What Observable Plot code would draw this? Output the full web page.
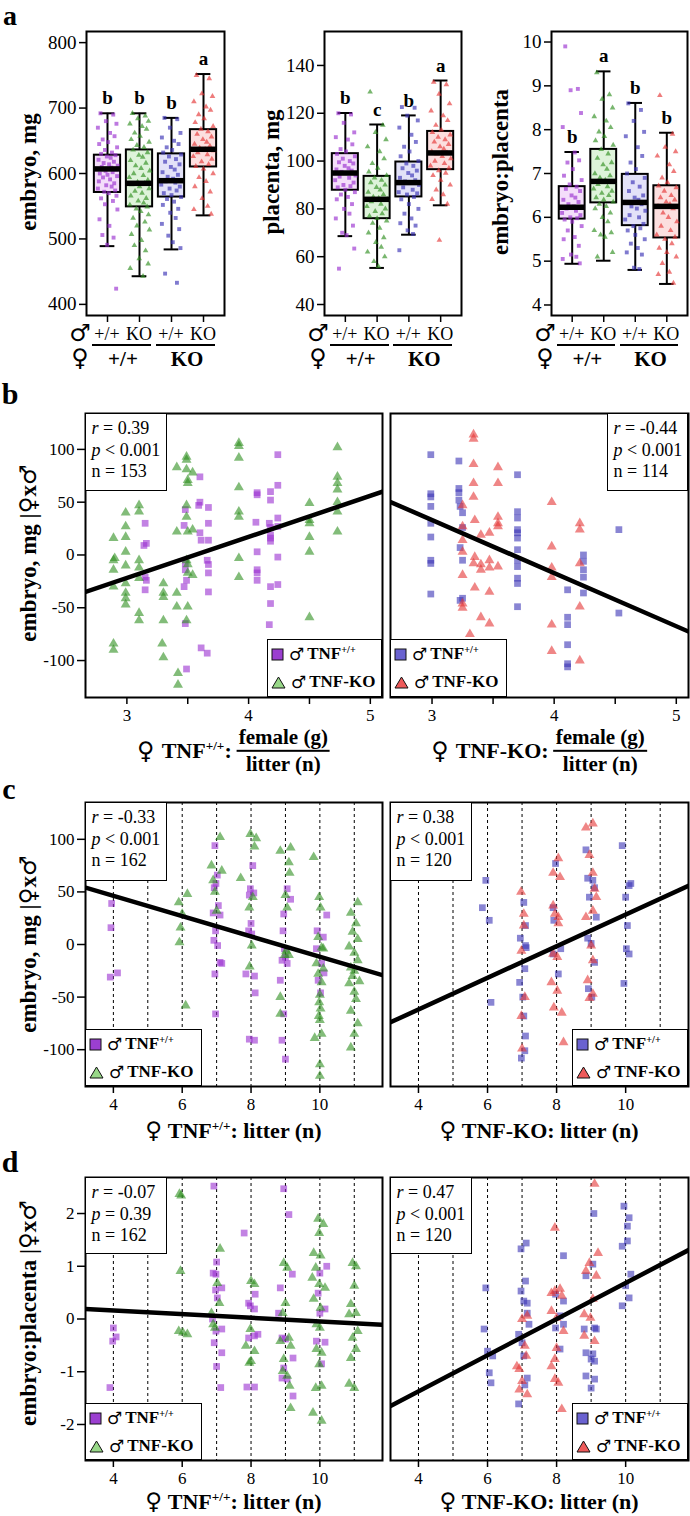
<!DOCTYPE html>
<html><head><meta charset="utf-8">
<script src="https://cdn.jsdelivr.net/npm/d3@7"></script>
<script src="https://cdn.jsdelivr.net/npm/@observablehq/plot@0.6"></script>
<style>
body{margin:0;background:#fff;}
#root{position:relative;width:690px;height:1516px;font-family:"Liberation Serif","Times New Roman",serif;color:#000;overflow:hidden;background:#fff;}
.abs{position:absolute;line-height:1;white-space:nowrap;}
.box{position:absolute;background:#fff;border:1.5px solid #000;box-sizing:border-box;white-space:nowrap;}
.stats{font-size:18px;line-height:21.7px;padding:4px 0 0 5.5px;}
.legend{padding:0 0 0 3px;}
.lrow{display:flex;align-items:center;height:28px;font-size:17px;}
.mars{font-family:"DejaVu Sans",sans-serif;font-weight:normal;font-size:17px;margin:0 3px 0 5px;}
sup{font-size:0.6em;vertical-align:0.6em;line-height:0;}
.sym{font-family:"DejaVu Sans",sans-serif;font-weight:normal;line-height:1;}
.frac{display:inline-flex;flex-direction:column;align-items:center;vertical-align:middle;font-weight:bold;font-size:21px;line-height:1.2;}
.frac span:first-child{border-bottom:2px solid #000;padding:0 2px;}
svg{overflow:visible;}
</style></head>
<body><div id="root"></div>
<script>
// ---------------- DATA ----------------
// panel a: sire genotype / dam genotype for the four groups
const sireLabels = ["+/+", "KO", "+/+", "KO"];
const damLabels = ["+/+", "KO"];

// box plot summaries (q1, median, q3, whisker low, whisker high) and letters
const embryoQ1 = [571, 549, 564, 610];
const embryoMed = [607, 585, 589, 637];
const embryoQ3 = [628, 636, 630, 667];
const embryoLo = [489, 443, 484, 536];
const embryoHi = [692, 692, 685, 752];
const embryoLetters = ["b", "b", "b", "a"];

const placentaQ1 = [87.8, 75.9, 85.0, 96.4];
const placentaMed = [95.0, 84.0, 91.0, 103.4];
const placentaQ3 = [103.1, 93.6, 99.6, 112.4];
const placentaLo = [68.6, 55.3, 69.2, 81.5];
const placentaHi = [120.1, 115.3, 119.1, 133.7];
const placentaLetters = ["b", "c", "b", "a"];

const ratioQ1 = [5.96, 6.33, 5.81, 5.53];
const ratioMed = [6.23, 6.82, 6.34, 6.25];
const ratioQ3 = [6.70, 7.55, 6.98, 6.72];
const ratioLo = [4.94, 5.01, 4.80, 4.48];
const ratioHi = [7.49, 9.33, 8.61, 7.93];
const ratioLetters = ["b", "a", "b", "b"];

// horizontal scatter offsets of the box-plot points (category units)
const jitterA = [-0.22, 0.18, -0.05, 0.28, -0.3, 0.08, 0.22, -0.15, 0.02, -0.26, 0.3, -0.08, 0.14, -0.2, 0.25, -0.02, 0.1, -0.28, 0.2, -0.12, 0.05, 0.32, -0.18, 0.12, -0.32, 0.26, -0.06, 0.16, -0.24, 0.0, 0.3, -0.14, 0.08, -0.27, 0.21, -0.04, 0.13, -0.3, 0.24, -0.1, 0.04, 0.28, -0.2, 0.17, -0.08, 0.31, -0.25, 0.06, -0.16, 0.19, -0.01, 0.27, -0.29, 0.11, -0.13, 0.23, -0.22, 0.09, -0.06, 0.15];

// individual points of the box plots, per group
const embryoG1 = [692, 690, 680, 676, 670, 662, 657, 652, 648, 645, 640, 636, 632, 630, 628, 626, 624, 621, 618, 616, 614, 612, 610, 609, 607, 606, 604, 602, 600, 598, 596, 594, 591, 588, 585, 582, 580, 577, 574, 572, 570, 566, 562, 558, 553, 545, 530, 520, 506, 502, 491, 424];
const embryoG2 = [692, 688, 684, 680, 676, 672, 668, 662, 657, 652, 648, 643, 640, 636, 632, 628, 625, 620, 616, 612, 608, 604, 600, 597, 594, 590, 587, 585, 583, 580, 577, 573, 570, 566, 562, 558, 555, 552, 549, 546, 542, 537, 532, 526, 520, 514, 507, 498, 490, 482, 470, 462, 455, 443];
const embryoG3 = [685, 683, 670, 662, 655, 650, 645, 640, 636, 632, 629, 626, 622, 618, 614, 610, 606, 602, 598, 595, 592, 590, 588, 586, 583, 580, 577, 574, 570, 567, 564, 561, 557, 552, 546, 540, 532, 523, 515, 505, 495, 486, 447, 433];
const embryoG4 = [750, 745, 722, 718, 710, 702, 697, 690, 684, 678, 672, 668, 664, 660, 656, 652, 648, 645, 642, 639, 637, 635, 632, 629, 626, 622, 618, 614, 611, 607, 600, 594, 588, 580, 572, 562, 550, 545, 538];

const placentaG1 = [120, 119.5, 116, 112, 110, 109, 107, 105, 104, 103, 102, 101, 100, 99.5, 99, 98, 97, 96.5, 96, 95.5, 95, 94, 93.5, 93, 92, 91, 90, 89.5, 89, 88, 87, 86, 85, 84, 82, 80, 78, 76, 73, 70, 69, 63.4, 55];
const placentaG2 = [128.9, 115, 112, 109, 106, 104, 101, 99, 97, 95.5, 94, 93, 92, 91, 90, 89, 88, 87, 86, 85, 84.5, 84, 83, 82, 81, 80, 79, 78, 77, 76, 75, 74, 72, 70, 68, 66, 64, 62, 60, 58, 56];
const placentaG3 = [122.6, 122.3, 119, 117, 114, 111, 108, 106, 104, 102, 100, 99, 98, 97, 96, 95, 94, 93, 92, 91.5, 91, 90, 89, 88, 87, 86.5, 86, 85, 84, 82, 80, 78, 76, 74, 73, 71, 69.5, 62.7];
const placentaG4 = [133, 132, 128, 124, 121, 119, 117, 115, 113, 112, 111, 110, 109, 108, 107, 106, 105, 104, 103.5, 103, 102, 101, 100, 99, 98, 97, 96, 95, 94, 92, 90, 88, 86, 84, 82, 66.9];

const ratioG1 = [9.9, 8.93, 8.9, 8.38, 8.06, 7.48, 7.3, 7.25, 7.1, 6.95, 6.85, 6.75, 6.7, 6.65, 6.6, 6.5, 6.45, 6.4, 6.35, 6.3, 6.25, 6.22, 6.2, 6.15, 6.1, 6.05, 6.0, 5.98, 5.95, 5.9, 5.8, 5.7, 5.55, 5.5, 5.35, 5.15, 5.1, 5.05, 4.95];
const ratioG2 = [9.3, 8.8, 8.7, 8.5, 8.3, 8.2, 8.05, 7.95, 7.85, 7.75, 7.65, 7.55, 7.45, 7.35, 7.25, 7.2, 7.1, 7.0, 6.95, 6.9, 6.85, 6.8, 6.75, 6.7, 6.65, 6.6, 6.55, 6.5, 6.45, 6.4, 6.35, 6.3, 6.25, 6.2, 6.1, 6.0, 5.9, 5.7, 5.65, 5.6, 5.55, 5.2, 5.1];
const ratioG3 = [8.6, 8.45, 8.2, 7.95, 7.85, 7.6, 7.4, 7.25, 7.1, 7.0, 6.9, 6.8, 6.7, 6.6, 6.5, 6.45, 6.4, 6.35, 6.3, 6.25, 6.2, 6.15, 6.05, 6.0, 5.95, 5.85, 5.8, 5.75, 5.7, 5.6, 5.5, 5.4, 5.3, 5.2, 5.15, 4.85, 4.82];
const ratioG4 = [8.78, 7.9, 7.6, 7.5, 7.4, 7.2, 7.05, 6.9, 6.8, 6.72, 6.68, 6.6, 6.5, 6.45, 6.4, 6.35, 6.3, 6.25, 6.2, 6.1, 6.0, 5.9, 5.8, 5.7, 5.6, 5.55, 5.5, 5.4, 5.3, 5.2, 5.1, 4.95, 4.75, 4.7, 4.5];

// panel b: female(g)/litter(n) vs embryo residual (mg); [x, y]
const bLeftWT = [[3.15,30],[3.16,11],[3.14,9],[3.15,-21],[3.16,-24],[3.15,-33],[3.48,43],[3.47,28],[3.48,-8],[3.48,-14],[3.49,-24],[3.47,-30],[3.48,-65],[3.49,-108],[3.60,74],[3.60,50],[3.59,47],[3.60,21],[3.61,14],[3.61,-88],[3.67,45],[3.67,30],[3.67,14],[3.66,-5],[3.67,-9],[3.67,-17],[3.67,-35],[3.66,-93],[4.07,59],[4.07,57],[4.06,31],[4.07,3],[4.07,-14],[4.07,-17],[4.07,-24],[4.18,60],[4.18,52],[4.17,30],[4.18,26],[4.18,19],[4.18,16],[4.18,13],[4.18,-30],[4.18,-46],[4.17,-66],[4.24,95],[4.24,66],[4.24,35],[4.24,27],[4.24,-2],[4.24,-28]];
const bLeftKO = [[2.89,16],[2.89,-5],[2.90,-3],[2.89,-14],[2.89,-30],[2.89,-84],[2.89,-90],[2.99,40],[2.99,27],[2.99,17],[2.99,3],[2.99,-10],[2.99,-27],[2.99,-36],[2.99,-41],[2.99,-47],[3.10,47],[3.10,41],[3.10,-5],[3.10,-12],[3.10,-22],[3.10,-55],[3.10,-62],[3.30,-27],[3.30,-36],[3.30,-40],[3.30,-62],[3.29,-84],[3.30,-97],[3.41,83],[3.41,22],[3.41,-36],[3.41,-49],[3.42,-112],[3.42,-123],[3.49,93],[3.49,90],[3.49,81],[3.50,71],[3.50,68],[3.49,47],[3.49,36],[3.50,22],[3.49,-5],[3.50,-9],[3.50,-17],[3.50,-49],[3.49,-62],[3.54,78],[3.54,24],[3.54,-19],[3.92,106],[3.92,103],[3.92,92],[3.92,64],[3.92,41],[3.92,36],[3.92,-3],[3.92,-21],[4.50,49],[4.50,33],[4.50,30],[4.50,17],[4.50,3],[4.50,-59],[4.73,102],[4.73,74],[4.73,68],[4.73,62],[4.73,50],[4.73,41],[4.73,22]];
const bRightWT = [[2.99,95],[2.99,58],[2.99,55],[2.99,46],[2.99,30],[2.99,17],[2.99,-5],[2.99,-8],[2.99,-37],[3.22,89],[3.22,63],[3.22,59],[3.22,52],[3.23,46],[3.23,7],[3.23,-43],[3.25,40],[3.25,26],[3.25,-5],[3.25,-41],[3.70,76],[3.70,41],[3.70,35],[3.70,24],[3.70,21],[3.70,16],[3.70,5],[3.70,-5],[3.70,-11],[3.70,-22],[3.70,-27],[3.70,-49],[4.11,-33],[4.11,-59],[4.11,-66],[4.11,-85],[4.11,-103],[4.11,-106],[4.24,0],[4.24,-6],[4.24,-14],[4.24,-21],[4.24,-36],[4.53,24],[4.53,-55]];
const bRightKO = [[3.34,114],[3.34,110],[3.34,86],[3.34,68],[3.34,55],[3.34,-8],[3.25,47],[3.25,27],[3.25,14],[3.25,3],[3.25,-19],[3.25,-46],[3.25,-50],[3.35,33],[3.35,-2],[3.35,-31],[3.40,19],[3.40,-9],[3.40,-14],[3.40,-59],[3.47,21],[3.47,-5],[3.47,-12],[3.47,-35],[3.47,-65],[3.54,83],[3.54,68],[3.54,36],[3.54,30],[3.54,27],[3.54,-11],[3.98,50],[3.98,8],[3.98,-12],[3.98,-21],[3.98,-66],[3.98,-91],[4.21,30],[4.21,24],[4.21,-8],[4.21,-49],[4.21,-100],[3.31,-75],[3.42,-88]];

// panel c: litter (n) vs embryo residual (mg)
const cLeftWT = [[3.95,39],[3.93,16],[3.91,-31],[4.12,-27],[6.95,94],[7.02,66],[6.98,58],[6.93,54],[7.05,37],[6.9,30],[7.1,28],[6.97,13],[6.92,4],[7.03,-1],[7.1,-17],[7.15,-18],[6.95,-28],[6.97,-66],[8.05,75],[7.98,53],[8.08,49],[7.95,47],[8.0,20],[7.93,13],[8.02,10],[7.85,-28],[8.1,-30],[8.12,-46],[7.95,-90],[8.1,-91],[9.05,53],[9.15,43],[8.95,29],[8.93,13],[8.97,-4],[9.0,-12],[8.9,-15],[9.05,-18],[8.85,-34],[8.95,-66],[8.9,-91],[9.0,-109],[10.2,28],[9.92,13],[10.1,7],[9.9,-4],[10.05,-18],[10.12,-27],[9.95,-34],[10.02,-46]];
const cLeftKO = [[5.9,40],[6.15,48],[6.0,29],[5.95,16],[5.92,2],[6.1,-58],[7.1,102],[6.85,75],[7.15,70],[7.7,63],[6.9,61],[6.95,50],[7.0,32],[7.98,105],[8.15,101],[8.1,93],[7.95,35],[8.05,45],[8.02,-1],[7.96,-21],[8.85,89],[9.15,92],[9.1,78],[9.12,68],[9.0,47],[9.05,35],[9.02,-6],[8.98,-10],[9.1,-10],[8.85,-50],[8.85,-66],[9.82,83],[9.98,45],[10.02,35],[9.95,7],[10.05,-3],[10.1,-4],[9.9,-18],[10.1,-23],[9.95,-28],[10.05,-36],[10.0,-48],[9.98,-55],[10.02,-61],[9.97,-68],[10.0,-72],[10.05,-85],[9.85,-89],[10.0,-114],[10.0,-125],[11.1,40],[10.9,30],[11.05,20],[10.95,12],[11.1,5],[10.85,-2],[11.0,-8],[11.1,-15],[10.9,-22],[11.0,-25],[10.95,-30],[11.15,-35],[10.85,-37],[11.0,-45],[11.05,-52],[10.9,-63],[11.1,-75],[11.0,-85],[10.9,-98]];
const cRightWT = [[5.95,61],[5.85,35],[6.05,23],[6.1,-55],[7.05,40],[7.1,18],[6.95,6],[6.93,-36],[7.02,-50],[7.1,-1],[7.12,-3],[7.08,-23],[7.05,-68],[7.1,-87],[6.98,-108],[7.08,-101],[7.97,77],[7.9,35],[7.92,23],[7.9,-9],[8.05,-28],[8.12,-4],[8.85,90],[8.9,63],[9.05,61],[9.1,54],[8.95,45],[9.15,26],[8.9,6],[9.0,1],[8.92,-42],[9.02,-50],[9.1,-17],[9.9,94],[10.1,56],[10.15,58],[10.0,45],[10.05,18],[10.02,-4],[10.1,-9],[9.95,-37]];
const cRightKO = [[6.97,50],[7.05,29],[7.05,18],[6.98,-6],[6.98,-68],[7.0,-99],[7.08,-50],[7.9,68],[8.05,82],[8.1,64],[7.9,37],[7.95,29],[8.05,26],[8.05,20],[7.9,-9],[8.02,-12],[7.85,-36],[8.02,-44],[7.92,-60],[8.15,-65],[8.2,-93],[8.85,111],[9.05,115],[8.95,85],[9.05,68],[9.1,53],[9.15,45],[9.05,32],[8.85,26],[9.0,-1],[9.05,-15],[8.9,-34],[8.95,-51],[9.05,-47]];

// panel d: litter (n) vs embryo:placenta residual
const dLeftWT = [[4.0,-0.17],[4.08,-0.34],[3.98,-0.42],[3.9,-1.3],[6.92,2.52],[7.0,1.08],[6.9,0.87],[6.98,0.85],[7.15,0.59],[6.97,0.55],[7.02,0.40],[6.88,0],[6.98,-0.23],[7.15,-0.19],[6.93,-0.45],[7.0,-0.9],[7.15,-0.64],[7.12,-1.3],[7.8,1.63],[7.93,0.30],[7.98,0.25],[8.1,0.19],[8.12,0.47],[7.93,-0.36],[8.1,-0.32],[8.2,-0.29],[7.88,-1.29],[8.1,-1.29],[8.95,2.47],[9.1,1.98],[8.85,0.59],[8.8,0.11],[8.9,-0.36],[9.0,-0.38],[8.95,-0.93],[8.9,-1.12],[9.05,-1.14],[9.2,0.85],[9.22,-0.74],[9.22,-1.46],[10.0,0.87],[10.2,1.0],[9.95,0.49],[10.0,0.11],[10.15,0.19],[9.9,-0.42],[10.15,-0.44],[10.05,-0.85]];
const dLeftKO = [[5.92,2.37],[5.97,2.34],[5.95,0.91],[5.9,-0.23],[6.02,-0.26],[6.15,-0.29],[7.1,1.33],[7.02,0.68],[7.08,0.30],[6.85,0.11],[6.9,-0.1],[6.95,-0.17],[8.0,0.72],[8.1,0.66],[7.98,-0.19],[7.85,-0.51],[8.1,-0.61],[8.0,-0.8],[7.95,-0.83],[8.95,1.06],[9.05,0.97],[9.0,0.30],[8.92,0.11],[9.1,-0.36],[8.85,-0.42],[9.15,-0.51],[8.95,-0.76],[8.92,-0.99],[9.05,-1.08],[9.12,-1.27],[9.15,-1.69],[9.95,1.9],[10.1,1.8],[9.98,1.63],[9.82,1.25],[10.02,1.2],[9.88,0.97],[9.78,0.78],[9.98,0.66],[10.15,0.59],[9.82,0.38],[10.02,0.21],[9.9,-0.1],[10.0,-0.17],[9.9,-0.57],[10.05,-0.64],[9.98,-0.86],[9.88,-1.31],[10.05,-1.27],[9.8,-1.78],[10.05,-1.93],[10.95,1.06],[11.05,1.0],[11.0,0.63],[10.9,0.28],[11.05,0.11],[10.85,0.09],[11.1,-0.23],[10.95,-0.36],[11.05,-0.57],[10.9,-0.74],[11.0,-1.31],[10.85,-1.23]];
const dRightWT = [[5.95,0.59],[5.9,-0.19],[6.0,-0.61],[6.15,-0.7],[6.05,-1.02],[6.1,-1.21],[7.12,1.44],[6.97,1.33],[7.1,0.72],[6.97,0.53],[7.05,0.34],[7.15,0.30],[7.15,0.11],[7.2,-0.1],[6.9,-0.29],[7.0,-0.45],[7.05,-0.7],[7.15,-1.12],[7.08,-1.25],[6.9,-1.61],[8.2,1.2],[7.97,0.47],[8.2,0.34],[8.1,0.06],[8.2,-0.1],[7.97,-0.17],[8.1,-0.57],[9.08,2.0],[9.05,1.04],[8.85,0.82],[9.1,-0.17],[9.15,-0.19],[8.8,-0.19],[8.85,-0.64],[9.05,-0.66],[9.0,-0.76],[9.1,-0.8],[8.85,-1.08],[9.1,-1.14],[9.0,-1.31],[9.95,2.14],[10.1,1.92],[10.05,1.76],[10.05,1.48],[9.9,1.38],[10.15,0.85],[10.0,0.63],[10.1,0.40],[9.9,0.25]];
const dRightKO = [[7.0,0],[7.15,0.06],[7.08,-0.51],[7.12,-0.7],[6.85,-0.9],[6.92,-0.95],[7.0,-1.18],[6.92,-1.34],[7.15,-1.43],[7.95,1.73],[8.1,0.57],[7.95,0.53],[7.85,0.49],[8.15,0.44],[7.85,0.15],[8.0,0.02],[8.2,-0.23],[8.0,-0.55],[7.95,-0.76],[7.85,-0.9],[7.95,-1.14],[8.05,-1.21],[8.15,-1.71],[9.1,2.56],[9.2,1.25],[8.95,1.06],[8.85,0.91],[9.15,0.82],[9.05,0.38],[8.8,0.09],[8.98,0.02],[8.8,-0.32],[9.1,-0.42]];

// regression fits (intercept, slope) for b-left, b-right, c-left, c-right, d-left, d-right
const fitIntercept = [-138.5, 184, 84.8, -122, 0.301, -2.743];
const fitSlope = [38.9, -50.3, -9.64, 15.05, -0.0348, 0.3426];
// correlation statistics
const statR = ["0.39", "-0.44", "-0.33", "0.38", "-0.07", "0.47"];
const statP = ["< 0.001", "< 0.001", "< 0.001", "< 0.001", "= 0.39", "< 0.001"];
const statN = [153, 114, 162, 120, 162, 120];

// axis ticks
const embryoTicks = [400, 500, 600, 700, 800];
const placentaTicks = [40, 60, 80, 100, 120, 140];
const ratioTicks = [4, 5, 6, 7, 8, 9, 10];
const massTicks = [3, 3.5, 4, 4.5, 5];
const litterTicks = [4, 6, 8, 10];
const litterGrid = [4, 5, 6, 7, 8, 9, 10, 11];
const residTicks = [-100, -50, 0, 50, 100];
const ratioResidTicks = [-2, -1, 0, 1, 2];

// ---------------- STYLE ----------------
const FONT = '"Liberation Serif","Times New Roman",serif';
const PURPLE = "#9a2fd0", GREEN = "#2f8f20", BLUE = "#3b33b5", RED = "#e53535";
const PT = [PURPLE, GREEN, BLUE, RED];
const BOXFILL = ["#f4defa", "#def3da", "#e3e2f8", "#fcdfdf"];
const root = document.getElementById("root");

function addText(html, x, y, o = {}) {
  const d = document.createElement("div");
  d.className = "abs";
  d.innerHTML = html;
  d.style.fontSize = (o.size || 18) + "px";
  d.style.fontWeight = o.bold ? "bold" : "normal";
  if (o.family) d.style.fontFamily = o.family;
  if (o.lh) d.style.lineHeight = o.lh;
  d.style.left = x + "px";
  d.style.top = y + "px";
  d.style.transform = "translate(-50%,-50%)" + (o.rotate ? " rotate(-90deg)" : "");
  root.append(d);
  return d;
}
function addLine(x1, x2, y, w) {
  const d = document.createElement("div");
  Object.assign(d.style, {position: "absolute", left: x1 + "px", top: (y - w / 2) + "px", width: (x2 - x1) + "px", height: w + "px", background: "#000"});
  root.append(d);
}
const plotStyle = {fontFamily: FONT, fontSize: "17px", color: "#000", background: "transparent", overflow: "visible"};

// ---------------- PANEL a ----------------
function boxPanel(cfg) {
  const mL = 52, mR = 2, mT = 2, mB = 12;
  const fw = cfg.right - cfg.left, fh = cfg.bottom - cfg.top;
  const stats = cfg.q1.map((_, i) => ({cat: i + 1, q1: cfg.q1[i], med: cfg.med[i], q3: cfg.q3[i], lo: cfg.lo[i], hi: cfg.hi[i], letter: cfg.letters[i]}));
  const pts = cfg.values.flatMap((vals, g) => vals.map((v, i) => ({g, x: g + 1 + jitterA[i % jitterA.length], v})));
  const marks = [
    Plot.ruleX(stats, {x: "cat", y1: "lo", y2: "hi", stroke: "#000", strokeWidth: 2}),
    Plot.ruleY(stats, {y: "lo", x1: d => d.cat - 0.23, x2: d => d.cat + 0.23, stroke: "#000", strokeWidth: 2}),
    Plot.ruleY(stats, {y: "hi", x1: d => d.cat - 0.23, x2: d => d.cat + 0.23, stroke: "#000", strokeWidth: 2}),
    Plot.rect(stats, {x1: d => d.cat - 0.41, x2: d => d.cat + 0.41, y1: "q1", y2: "q3", fill: d => BOXFILL[d.cat - 1], stroke: "#000", strokeWidth: 2})
  ];
  for (let g = 0; g < 4; g++) {
    marks.push(Plot.dot(pts.filter(p => p.g === g), {x: "x", y: "v", symbol: g % 2 === 0 ? "square" : "triangle", r: g % 2 === 0 ? 2.2 : 2.1, fill: PT[g], fillOpacity: 0.65}));
  }
  marks.push(
    Plot.ruleY(stats, {y: "med", x1: d => d.cat - 0.41, x2: d => d.cat + 0.41, stroke: "#000", strokeWidth: 5.5}),
    Plot.text(stats, {x: "cat", y: "hi", text: "letter", dy: -15, fontSize: 19, fontWeight: "bold", fill: "#000"}),
    Plot.frame({stroke: "#000", strokeWidth: 2}),
    Plot.axisX({ticks: [1, 2, 3, 4], tickSize: 7, tickFormat: () => "", strokeWidth: 1.5}),
    Plot.axisY({ticks: cfg.yTicks, tickSize: 7, tickPadding: 3, strokeWidth: 1.5, fontSize: 19, tickFormat: d => String(d)})
  );
  const p = Plot.plot({
    width: mL + fw + mR, height: mT + fh + mB,
    marginLeft: mL, marginRight: mR, marginTop: mT, marginBottom: mB,
    x: {domain: [0.344, 4.656], label: null},
    y: {domain: cfg.yDomain, label: null},
    color: {type: "identity"},
    style: plotStyle,
    marks
  });
  const sl = cfg.left - mL;
  p.style.position = "absolute";
  p.style.left = sl + "px";
  p.style.top = (cfg.top - mT) + "px";
  root.append(p);
  // genotype labels below, positioned with the plot's own x scale
  const xs = p.scale("x");
  const px = c => sl + xs.apply(c);
  addText("♂", cfg.left - 6, 333, {size: 24, family: '"DejaVu Sans",sans-serif'});
  addText("♀", cfg.left - 6, 358, {size: 24, family: '"DejaVu Sans",sans-serif'});
  sireLabels.forEach((s, i) => addText(s, px(i + 1), 334, {size: 18}));
  addLine(px(1) - 15, px(2) + 12, 345, 1.6);
  addLine(px(3) - 15, px(4) + 12, 345, 1.6);
  addText(damLabels[0], (px(1) + px(2)) / 2, 359, {size: 21, bold: true});
  addText(damLabels[1], (px(3) + px(4)) / 2, 359, {size: 21, bold: true});
  addText(cfg.ylabel, cfg.labelX, 172, {size: 23, bold: true, rotate: true});
}

boxPanel({left: 86, right: 224, top: 31, bottom: 315, yDomain: [383, 817], yTicks: embryoTicks,
  q1: embryoQ1, med: embryoMed, q3: embryoQ3, lo: embryoLo, hi: embryoHi, letters: embryoLetters,
  values: [embryoG1, embryoG2, embryoG3, embryoG4], ylabel: "embryo, mg", labelX: 28});
boxPanel({left: 324, right: 461, top: 31, bottom: 315, yDomain: [35.4, 154.2], yTicks: placentaTicks,
  q1: placentaQ1, med: placentaMed, q3: placentaQ3, lo: placentaLo, hi: placentaHi, letters: placentaLetters,
  values: [placentaG1, placentaG2, placentaG3, placentaG4], ylabel: "placenta, mg", labelX: 271});
boxPanel({left: 551, right: 687, top: 31, bottom: 315, yDomain: [3.76, 10.24], yTicks: ratioTicks,
  q1: ratioQ1, med: ratioMed, q3: ratioQ3, lo: ratioLo, hi: ratioHi, letters: ratioLetters,
  values: [ratioG1, ratioG2, ratioG3, ratioG4], ylabel: "embryo:placenta", labelX: 500});

// ---------------- PANELS b, c, d ----------------
function scatterPanel(cfg) {
  const mL = cfg.showY ? 50 : 2, mR = 2, mT = 2, mB = 34;
  const fw = cfg.right - cfg.left, fh = cfg.bottom - cfg.top;
  const toObj = a => a.map(([x, y]) => ({x, y}));
  const fitPts = cfg.xDomain.map(x => ({x, y: fitIntercept[cfg.k] + fitSlope[cfg.k] * x}));
  const marks = [];
  if (cfg.grid) marks.push(Plot.ruleX(cfg.grid, {stroke: "#000", strokeWidth: 1, strokeDasharray: "3,3"}));
  marks.push(
    Plot.dot(toObj(cfg.sq), {x: "x", y: "y", symbol: "square", r: 3.8, fill: cfg.sqColor, fillOpacity: 0.6}),
    Plot.dot(toObj(cfg.tri), {x: "x", y: "y", symbol: "triangle", r: 3.7, fill: cfg.triColor, fillOpacity: 0.6}),
    Plot.line(fitPts, {x: "x", y: "y", stroke: "#000", strokeWidth: 4.5, clip: true}),
    Plot.frame({stroke: "#000", strokeWidth: 2}),
    Plot.axisX({ticks: cfg.xTicks, tickSize: 7, tickPadding: 4, strokeWidth: 1.5, fontSize: 17, tickFormat: d => Number.isInteger(d) ? String(d) : ""})
  );
  if (cfg.showY) marks.push(Plot.axisY({ticks: cfg.yTicks, tickSize: 8, tickPadding: 3, strokeWidth: 1.5, fontSize: 17, tickFormat: d => String(d)}));
  const yOpt = {domain: cfg.yDomain, label: null};
  if (!cfg.showY) yOpt.axis = null;
  const p = Plot.plot({
    width: mL + fw + mR, height: mT + fh + mB,
    marginLeft: mL, marginRight: mR, marginTop: mT, marginBottom: mB,
    x: {domain: cfg.xDomain, label: null},
    y: yOpt,
    style: plotStyle,
    marks
  });
  p.style.position = "absolute";
  p.style.left = (cfg.left - mL) + "px";
  p.style.top = (cfg.top - mT) + "px";
  root.append(p);
}

function statsBox(k, x, y, w, h) {
  const d = document.createElement("div");
  d.className = "box stats";
  Object.assign(d.style, {left: x + "px", top: y + "px", width: w + "px", height: h + "px"});
  d.innerHTML = `<div><i>r</i> = ${statR[k]}</div><div><i>p</i> ${statP[k]}</div><div>n = ${statN[k]}</div>`;
  root.append(d);
}
function legendBox(x, y, w, h, sqColor, triColor) {
  const d = document.createElement("div");
  d.className = "box legend";
  Object.assign(d.style, {left: x + "px", top: y + "px", width: w + "px", height: h + "px"});
  const sq = `<svg width="13" height="13" style="display:block"><rect x="1" y="1" width="11" height="11" fill="${sqColor}" stroke="#111" stroke-width="1"/></svg>`;
  const tri = `<svg width="15" height="13" style="display:block"><path d="M7.5 1 L14 12 L1 12 Z" fill="${triColor}" stroke="#111" stroke-width="1"/></svg>`;
  d.innerHTML = `<div class="lrow">${sq}<span class="mars">♂</span><b>TNF<sup>+/+</sup></b></div><div class="lrow">${tri}<span class="mars">♂</span><b>TNF-KO</b></div>`;
  root.append(d);
}
function yLabel(text, y) {
  addText(text + ' |<span style="font-family:\'DejaVu Sans\',sans-serif;font-weight:normal">♀</span>x<span style="font-family:\'DejaVu Sans\',sans-serif;font-weight:normal">♂</span>', 28, y, {size: 23, bold: true, rotate: true});
}
function xLabelFrac(dam, cx, cy) {
  const d = addText(`<span class="sym" style="font-size:24px;margin-right:7px">♀</span><b style="font-size:22px;margin-right:5px">${dam}:</b><span class="frac"><span>female (g)</span><span>litter (n)</span></span>`, cx, cy, {size: 22});
  d.style.display = "flex"; d.style.alignItems = "center";
}
function xLabelLitter(dam, cx, cy) {
  addText(`<span class="sym" style="font-size:23px">♀</span> <b>${dam}: litter (n)</b>`, cx, cy, {size: 22});
}

const L = {left: 85, right: 382}, R = {left: 390, right: 688};
const massDomain = [2.66, 5.1], litterDomain = [3.19, 11.82];

// b
scatterPanel({k: 0, ...L, top: 413, bottom: 697, xDomain: massDomain, yDomain: [-135, 134], xTicks: massTicks, yTicks: residTicks, showY: true, sq: bLeftWT, tri: bLeftKO, sqColor: PURPLE, triColor: GREEN});
scatterPanel({k: 1, ...R, top: 413, bottom: 697, xDomain: massDomain, yDomain: [-135, 134], xTicks: massTicks, showY: false, sq: bRightWT, tri: bRightKO, sqColor: BLUE, triColor: RED});
statsBox(0, 85, 413, 82, 78); statsBox(1, 607, 413, 81, 78);
legendBox(267, 639, 115, 58, "#9b3fd0", "#98d888"); legendBox(390, 639, 117, 58, "#6a62d0", "#ee5a5a");
// c
scatterPanel({k: 2, ...L, top: 802, bottom: 1086, xDomain: litterDomain, yDomain: [-135, 135], xTicks: litterTicks, yTicks: residTicks, showY: true, grid: litterGrid, sq: cLeftWT, tri: cLeftKO, sqColor: PURPLE, triColor: GREEN});
scatterPanel({k: 3, ...R, top: 802, bottom: 1086, xDomain: litterDomain, yDomain: [-135, 135], xTicks: litterTicks, showY: false, grid: litterGrid, sq: cRightWT, tri: cRightKO, sqColor: BLUE, triColor: RED});
statsBox(2, 85, 802, 82, 79); statsBox(3, 390, 802, 82, 79);
legendBox(85, 1029, 117, 57, "#9b3fd0", "#98d888"); legendBox(572, 1029, 116, 57, "#6a62d0", "#ee5a5a");
// d
scatterPanel({k: 4, ...L, top: 1177, bottom: 1460, xDomain: litterDomain, yDomain: [-2.683, 2.683], xTicks: litterTicks, yTicks: ratioResidTicks, showY: true, grid: litterGrid, sq: dLeftWT, tri: dLeftKO, sqColor: PURPLE, triColor: GREEN});
scatterPanel({k: 5, ...R, top: 1177, bottom: 1460, xDomain: litterDomain, yDomain: [-2.683, 2.683], xTicks: litterTicks, showY: false, grid: litterGrid, sq: dRightWT, tri: dRightKO, sqColor: BLUE, triColor: RED});
statsBox(4, 85, 1177, 82, 77); statsBox(5, 390, 1177, 82, 77);
legendBox(85, 1403, 117, 57, "#9b3fd0", "#98d888"); legendBox(572, 1403, 116, 57, "#6a62d0", "#ee5a5a");

// axis titles
yLabel("embryo, mg", 553);
yLabel("embryo, mg", 944);
yLabel("embryo:placenta", 1313);
xLabelFrac("TNF<sup>+/+</sup>", 233.5, 751);
xLabelFrac("TNF-KO", 539, 751);
xLabelLitter("TNF<sup>+/+</sup>", 233.5, 1130);
xLabelLitter("TNF-KO", 539, 1130);
xLabelLitter("TNF<sup>+/+</sup>", 233.5, 1501);
xLabelLitter("TNF-KO", 539, 1501);

// panel letters
addText("a", 10, 16, {size: 28, bold: true});
addText("b", 10, 394, {size: 30, bold: true});
addText("c", 9, 789, {size: 30, bold: true});
addText("d", 10, 1162, {size: 30, bold: true});
</script>
</body></html>
